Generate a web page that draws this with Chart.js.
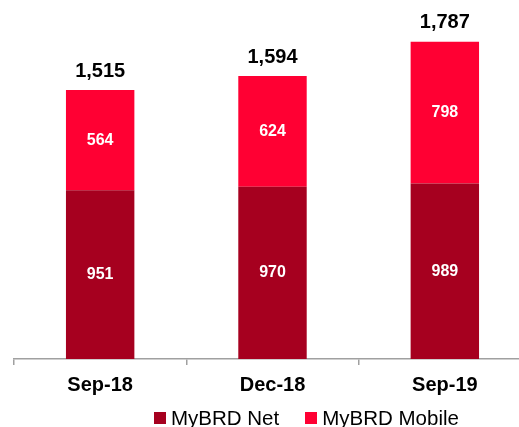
<!DOCTYPE html>
<html>
<head>
<meta charset="utf-8">
<script src="https://cdn.jsdelivr.net/npm/chart.js@4"></script>
<style>
  html, body { margin: 0; padding: 0; width: 519px; height: 427px; overflow: hidden; background: #fff; }
  #wrap { position: relative; width: 535px; height: 427px; }
  #legend { position: absolute; left: 154px; top: 406px; display: flex; align-items: center;
            font-family: "Liberation Sans", Arial, sans-serif; font-size: 20.5px; color: #000; white-space: nowrap; }
  #legend span.box { display: inline-block; width: 12px; height: 12px; margin-right: 5px; }
  #legend span.item { display: inline-flex; align-items: center; margin-right: 26px; }
</style>
</head>
<body>
<div id="wrap">
  <canvas id="chart" width="535" height="427"></canvas>
  <div id="legend"></div>
</div>
<script>
const categories = ['Sep-18', 'Dec-18', 'Sep-19']
const netValues = [951, 970, 989]
const mobileValues = [564, 624, 798]
const totals = [1515, 1594, 1787]

const netColor = '#A6001F'
const mobileColor = '#FF0033'

// labels inside segments + totals on top
const labelPlugin = {
    id: 'barLabels',
    afterDatasetsDraw(chart) {
        const ctx = chart.ctx
        ctx.save()
        ctx.textAlign = 'center'
        ctx.textBaseline = 'middle'
        chart.data.datasets.forEach((ds, i) => {
            const meta = chart.getDatasetMeta(i)
            meta.data.forEach((bar, j) => {
                ctx.fillStyle = '#fff'
                ctx.font = 'bold 16px "Liberation Sans", Arial, sans-serif'
                ctx.fillText(ds.data[j], bar.x, (bar.y + bar.base) / 2)
            })
        })
        const top = chart.getDatasetMeta(chart.data.datasets.length - 1)
        top.data.forEach((bar, j) => {
            ctx.fillStyle = '#000'
            ctx.font = 'bold 20px "Liberation Sans", Arial, sans-serif'
            ctx.fillText(totals[j].toLocaleString('en-US'), bar.x, bar.y - 19)
        })
        ctx.restore()
    }
}

const chart = new Chart(document.getElementById('chart'), {
    type: 'bar',
    data: {
        labels: categories,
        datasets: [
            { label: 'MyBRD Net', data: netValues, backgroundColor: netColor },
            { label: 'MyBRD Mobile', data: mobileValues, backgroundColor: mobileColor }
        ]
    },
    options: {
        responsive: false,
        animation: false,
        layout: { padding: { left: 14, right: 4, top: 4, bottom: 22 } },
        plugins: {
            legend: { display: false },
            tooltip: { enabled: false }
        },
        datasets: {
            bar: { barPercentage: 1, categoryPercentage: 0.397 }
        },
        scales: {
            x: {
                stacked: true,
                border: { color: '#A0A0A0', width: 1.5 },
                grid: { drawOnChartArea: false, tickLength: 6, color: '#A0A0A0', lineWidth: 1.5 },
                ticks: {
                    padding: 8,
                    color: '#000',
                    font: { family: '"Liberation Sans", Arial, sans-serif', size: 20, weight: 'bold' }
                }
            },
            y: {
                stacked: true,
                display: false,
                min: 0,
                max: 2000
            }
        }
    },
    plugins: [labelPlugin]
})

// legend from the datasets
const legendEl = document.getElementById('legend')
chart.data.datasets.forEach((ds) => {
    const item = document.createElement('span')
    item.className = 'item'
    const box = document.createElement('span')
    box.className = 'box'
    box.style.background = ds.backgroundColor
    item.appendChild(box)
    item.appendChild(document.createTextNode(ds.label))
    legendEl.appendChild(item)
})
</script>
</body>
</html>
